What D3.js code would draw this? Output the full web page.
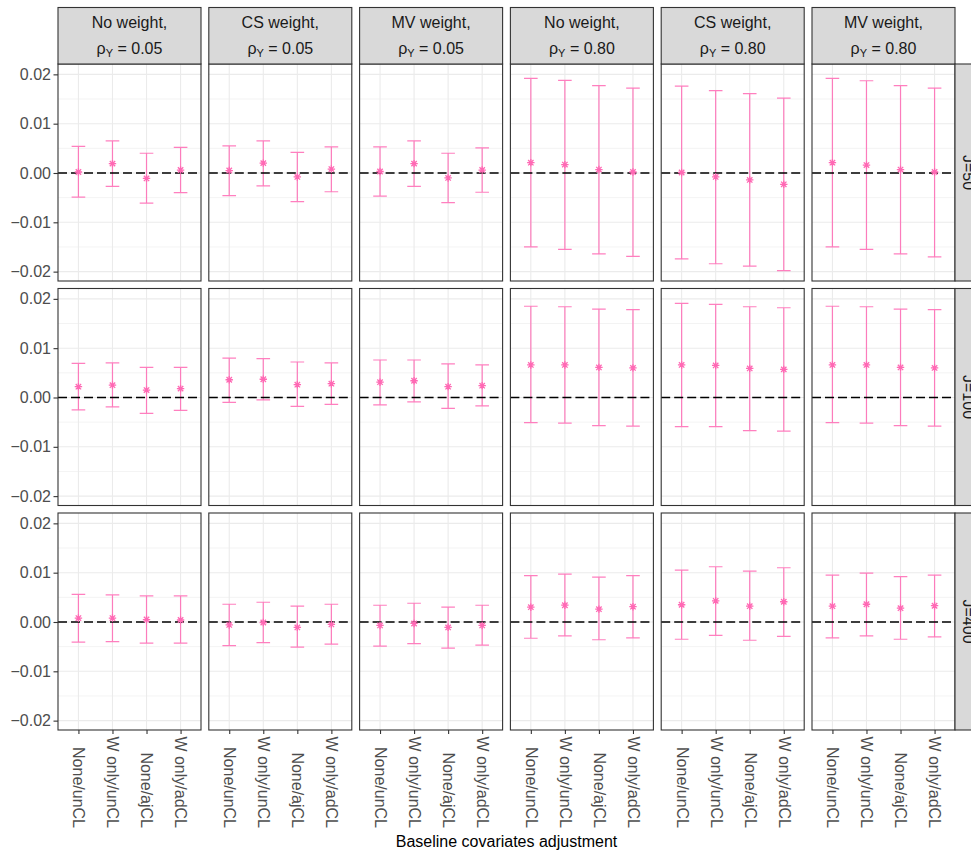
<!DOCTYPE html>
<html>
  <head>
    <meta charset="utf-8">
    <style>
      body { margin: 0; background: #fff; }
      text { font-family: "Liberation Sans", Arial, Helvetica, sans-serif; }
      .grid-major { stroke: #ebebeb; stroke-width: 1.1; }
      .grid-minor { stroke: #ebebeb; stroke-width: 0.6; }
      .frame { fill: none; stroke: #333333; stroke-width: 1.1; }
      .strip { fill: #d9d9d9; stroke: #333333; stroke-width: 1.1; }
      .bar { stroke: #ff69b4; stroke-opacity: 0.85; stroke-width: 1.2; fill: none; }
      .pt { stroke: #ff69b4; stroke-width: 1.3; }
      .zero { stroke: #000; stroke-width: 1.3; stroke-dasharray: 9,4; }
    </style>
  </head>
  <body>
    <script src="https://d3js.org/d3.v7.min.js"></script>
    <div id="chart"></div>
    <script>
      // Facets and categories
      var adjustments = ["None/unCL", "W only/unCL", "None/ajCL", "W only/adCL"];
      var weights = ["No weight,", "CS weight,", "MV weight,", "No weight,", "CS weight,", "MV weight,"];
      var rhos = ["0.05", "0.05", "0.05", "0.80", "0.80", "0.80"];
      var clusters = ["J=50", "J=100", "J=400"];
      var yTicks = [-0.02, -0.01, 0, 0.01, 0.02];
      var yMinor = [-0.015, -0.005, 0.005, 0.015];
      var yDomain = [-0.0219, 0.0221];

      // Estimates and interval ends, one inner list per column panel
      var estJ50 = [[0.0002, 0.0019, -0.0011, 0.0006], [0.0005, 0.0020, -0.0008, 0.0008], [0.0003, 0.0019, -0.0010, 0.0006],
                    [0.0021, 0.0017, 0.0007, 0.0002], [0.0001, -0.0008, -0.0014, -0.0023], [0.0021, 0.0016, 0.0007, 0.0002]];
      var loJ50 = [[-0.0049, -0.0027, -0.0061, -0.0040], [-0.0046, -0.0026, -0.0058, -0.0038], [-0.0047, -0.0027, -0.0060, -0.0039],
                   [-0.0150, -0.0155, -0.0164, -0.0169], [-0.0174, -0.0184, -0.0189, -0.0198], [-0.0150, -0.0155, -0.0164, -0.0170]];
      var hiJ50 = [[0.0054, 0.0065, 0.0040, 0.0052], [0.0055, 0.0065, 0.0042, 0.0053], [0.0053, 0.0065, 0.0040, 0.0051],
                   [0.0192, 0.0188, 0.0177, 0.0172], [0.0176, 0.0167, 0.0161, 0.0152], [0.0192, 0.0187, 0.0177, 0.0172]];

      var estJ100 = [[0.0022, 0.0025, 0.0015, 0.0018], [0.0036, 0.0037, 0.0026, 0.0028], [0.0031, 0.0034, 0.0022, 0.0024],
                     [0.0066, 0.0066, 0.0061, 0.0060], [0.0066, 0.0065, 0.0059, 0.0057], [0.0066, 0.0066, 0.0061, 0.0060]];
      var loJ100 = [[-0.0025, -0.0019, -0.0032, -0.0026], [-0.0010, -0.0005, -0.0018, -0.0014], [-0.0015, -0.0009, -0.0022, -0.0017],
                    [-0.0051, -0.0052, -0.0057, -0.0058], [-0.0059, -0.0059, -0.0067, -0.0068], [-0.0051, -0.0052, -0.0057, -0.0058]];
      var hiJ100 = [[0.0069, 0.0070, 0.0061, 0.0061], [0.0080, 0.0079, 0.0072, 0.0070], [0.0076, 0.0076, 0.0068, 0.0066],
                    [0.0185, 0.0184, 0.0179, 0.0178], [0.0191, 0.0189, 0.0184, 0.0182], [0.0185, 0.0184, 0.0179, 0.0178]];

      var estJ400 = [[0.0008, 0.0008, 0.0005, 0.0004], [-0.0006, -0.0001, -0.0011, -0.0005], [-0.0007, -0.0003, -0.0011, -0.0007],
                     [0.0030, 0.0034, 0.0026, 0.0031], [0.0035, 0.0043, 0.0032, 0.0041], [0.0032, 0.0036, 0.0028, 0.0033]];
      var loJ400 = [[-0.0041, -0.0040, -0.0043, -0.0043], [-0.0048, -0.0042, -0.0051, -0.0045], [-0.0049, -0.0044, -0.0053, -0.0047],
                    [-0.0033, -0.0028, -0.0036, -0.0032], [-0.0035, -0.0027, -0.0037, -0.0029], [-0.0032, -0.0028, -0.0035, -0.0030]];
      var hiJ400 = [[0.0056, 0.0055, 0.0053, 0.0053], [0.0036, 0.0040, 0.0032, 0.0036], [0.0034, 0.0038, 0.0030, 0.0034],
                    [0.0094, 0.0097, 0.0091, 0.0094], [0.0105, 0.0112, 0.0103, 0.0110], [0.0095, 0.0099, 0.0092, 0.0095]];

      var est = [estJ50, estJ100, estJ400],
          lo = [loJ50, loJ100, loJ400],
          hi = [hiJ50, hiJ100, hiJ400];

      // Layout of the facet grid
      var W = 971, H = 852;
      var gridLeft = 58, gridTop = 64,
          panelW = 143, panelH = 217,
          colStep = 150.8, rowStep = 224.5,
          stripH = 56.5, stripW = 26;

      var svg = d3.select("#chart").append("svg")
          .attr("width", W).attr("height", H);

      var x = d3.scalePoint().domain(adjustments).range([0, panelW]).padding(0.6);
      var y = d3.scaleLinear().domain(yDomain).range([panelH, 0]);
      var capW = x.step() * 0.4;

      clusters.forEach(function(cl, r) {
        weights.forEach(function(wt, c) {
          var g = svg.append("g")
              .attr("transform", "translate(" + (gridLeft + c * colStep) + "," + (gridTop + r * rowStep) + ")");

          // grid
          g.selectAll(".grid-minor").data(yMinor).enter().append("line")
              .attr("class", "grid-minor")
              .attr("x1", 0).attr("x2", panelW)
              .attr("y1", function(d) { return y(d); }).attr("y2", function(d) { return y(d); });
          g.selectAll(".grid-y").data(yTicks).enter().append("line")
              .attr("class", "grid-major grid-y")
              .attr("x1", 0).attr("x2", panelW)
              .attr("y1", function(d) { return y(d); }).attr("y2", function(d) { return y(d); });
          g.selectAll(".grid-x").data(adjustments).enter().append("line")
              .attr("class", "grid-major grid-x")
              .attr("y1", 0).attr("y2", panelH)
              .attr("x1", function(d) { return x(d); }).attr("x2", function(d) { return x(d); });

          var rows = adjustments.map(function(a, i) {
            return {a: a, est: est[r][c][i], lo: lo[r][c][i], hi: hi[r][c][i]};
          });

          // error bars
          g.selectAll(".bar").data(rows).enter().append("path")
              .attr("class", "bar")
              .attr("d", function(d) {
                var cx = x(d.a), y0 = y(d.lo), y1 = y(d.hi);
                return "M" + (cx - capW / 2) + "," + y1 + "H" + (cx + capW / 2) +
                       "M" + cx + "," + y1 + "V" + y0 +
                       "M" + (cx - capW / 2) + "," + y0 + "H" + (cx + capW / 2);
              });

          // reference line at zero
          g.append("line")
              .attr("class", "zero")
              .attr("x1", 0).attr("x2", panelW)
              .attr("y1", y(0)).attr("y2", y(0));

          // asterisk points
          var s = 3.7, sd = 2.7;
          g.selectAll(".pt").data(rows).enter().append("path")
              .attr("class", "pt")
              .attr("transform", function(d) { return "translate(" + x(d.a) + "," + y(d.est) + ")"; })
              .attr("d", "M" + (-s) + ",0H" + s + "M0," + (-s) + "V" + s +
                         "M" + (-sd) + "," + (-sd) + "L" + sd + "," + sd +
                         "M" + (-sd) + "," + sd + "L" + sd + "," + (-sd));

          g.append("rect").attr("class", "frame")
              .attr("width", panelW).attr("height", panelH);

          // y axis on first column
          if (c === 0) {
            var ya = g.append("g")
                .call(d3.axisLeft(y).tickValues(yTicks).tickFormat(d3.format(".2f")).tickSize(4.5).tickPadding(2.5));
            ya.select(".domain").remove();
            ya.selectAll("line").attr("stroke", "#333333").attr("stroke-width", 1.1);
            ya.selectAll("text").attr("fill", "#4d4d4d").style("font-size", "16px");
          }

          // x axis on bottom row
          if (r === clusters.length - 1) {
            var xa = g.append("g")
                .attr("transform", "translate(0," + panelH + ")")
                .call(d3.axisBottom(x).tickSize(4));
            xa.select(".domain").remove();
            xa.selectAll("line").attr("stroke", "#333333").attr("stroke-width", 1.1);
            xa.selectAll("text")
                .attr("fill", "#4d4d4d")
                .style("font-size", "16px")
                .style("text-anchor", "end")
                .attr("x", 0).attr("y", 0).attr("dy", "0.35em")
                .attr("transform", "translate(0,98) rotate(90)");
          }

          // column strips on top row
          if (r === 0) {
            var st = g.append("g").attr("transform", "translate(0," + (-stripH) + ")");
            st.append("rect").attr("class", "strip").attr("width", panelW).attr("height", stripH);
            st.append("text")
                .attr("x", panelW / 2).attr("y", 20)
                .attr("text-anchor", "middle")
                .style("font-size", "16px").attr("fill", "#1a1a1a")
                .text(wt);
            var t2 = st.append("text")
                .attr("x", panelW / 2).attr("y", 46.5)
                .attr("text-anchor", "middle")
                .style("font-size", "16px").attr("fill", "#1a1a1a");
            t2.append("tspan").text("\u03c1");
            t2.append("tspan").attr("dy", 3).style("font-size", "11px").text("Y");
            t2.append("tspan").attr("dy", -3).text(" = " + rhos[c]);
          }

          // row strips on last column (cut by the right edge, as in the original)
          if (c === weights.length - 1) {
            var rs = g.append("g").attr("transform", "translate(" + panelW + ",0)");
            rs.append("rect").attr("class", "strip").attr("width", stripW).attr("height", panelH);
            rs.append("text")
                .attr("text-anchor", "middle")
                .attr("transform", "translate(7.5," + (panelH / 2) + ") rotate(90)")
                .style("font-size", "16px").attr("fill", "#1a1a1a")
                .text(cl);
          }
        });
      });

      // x axis title
      svg.append("text")
          .attr("x", gridLeft + (5 * colStep + panelW) / 2)
          .attr("y", 846.5)
          .attr("text-anchor", "middle")
          .style("font-size", "16px")
          .attr("fill", "#000")
          .text("Baseline covariates adjustment");
    </script>
  </body>
</html>
